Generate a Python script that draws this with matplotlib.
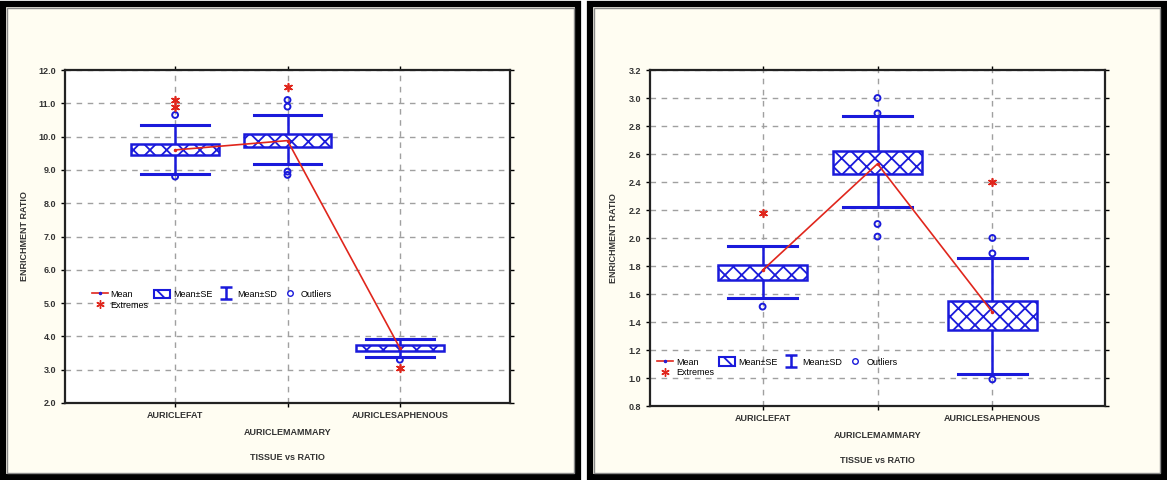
import numpy as np
import matplotlib
matplotlib.use("Agg")
import matplotlib.pyplot as plt
from matplotlib.patches import Rectangle, Patch
from matplotlib.lines import Line2D
from matplotlib.path import Path

plt.rcParams['font.family'] = ['Liberation Sans', 'DejaVu Sans']
plt.rcParams['hatch.linewidth'] = 1.3

cats = ["AURICLEFAT", "AURICLEMAMMARY", "AURICLESAPHENOUS"]
xlabel = "TISSUE vs RATIO"
ylabel = "ENRICHMENT RATIO"

# left panel
means1 = [9.6, 9.88, 3.65]
se_lo1 = [9.44, 9.70, 3.57]
se_hi1 = [9.78, 10.07, 3.73]
sd_lo1 = [8.88, 9.17, 3.37]
sd_hi1 = [10.35, 10.65, 3.93]
out_x1 = [0, 0, 1, 1, 1, 1, 2]
out_y1 = [10.65, 8.8, 11.1, 10.9, 8.95, 8.85, 3.3]
ext_x1 = [0, 0, 1, 2]
ext_y1 = [11.1, 10.9, 11.5, 3.05]
yticks1 = [2.0, 3.0, 4.0, 5.0, 6.0, 7.0, 8.0, 9.0, 10.0, 11.0, 12.0]

# right panel
means2 = [1.77, 2.53, 1.47]
se_lo2 = [1.70, 2.46, 1.34]
se_hi2 = [1.81, 2.62, 1.55]
sd_lo2 = [1.57, 2.22, 1.03]
sd_hi2 = [1.94, 2.87, 1.86]
out_x2 = [0, 1, 1, 1, 1, 2, 2, 2]
out_y2 = [1.51, 3.0, 2.89, 2.1, 2.01, 2.0, 1.89, 0.99]
ext_x2 = [0, 2]
ext_y2 = [2.18, 2.4]
yticks2 = [0.8, 1.0, 1.2, 1.4, 1.6, 1.8, 2.0, 2.2, 2.4, 2.6, 2.8, 3.0, 3.2]

BLUE = '#1a1adb'
RED = '#e0261c'
W, H = 1167, 480

# I-beam marker for the Mean±SD legend entry
ibeam = Path([(-1, 1), (1, 1), (0, 1), (0, -1), (-1, -1), (1, -1)],
             [Path.MOVETO, Path.LINETO, Path.MOVETO, Path.LINETO, Path.MOVETO, Path.LINETO])

fig = plt.figure(figsize=(11.67, 4.8), dpi=100)
fig.patch.set_facecolor('white')

# panel frames (drawn under the axes)
for x0, x1 in [(3, 578), (590, 1164)]:
    fig.patches.append(Rectangle((x0 / W, 3 / H), (x1 - x0) / W, 473 / H,
                                 transform=fig.transFigure, facecolor='#fffdf2',
                                 edgecolor='black', linewidth=4.5, zorder=-2))
    fig.patches.append(Rectangle(((x0 + 4) / W, 7 / H), (x1 - x0 - 8) / W, 465 / H,
                                 transform=fig.transFigure, facecolor='none',
                                 edgecolor='#8a8a8a', linewidth=1, zorder=-1))


def panel(rect, means, se_lo, se_hi, sd_lo, sd_hi, ox, oy, ex, ey, yticks, leg_pos):
    ax = fig.add_axes(rect)
    ax.set_facecolor('white')
    x = np.arange(len(cats))
    for i in x:
        ax.add_patch(Rectangle((i - 0.39, se_lo[i]), 0.78, se_hi[i] - se_lo[i],
                               facecolor='white', edgecolor=BLUE, hatch='xx',
                               linewidth=1.8, zorder=3))
        ax.plot([i, i], [sd_lo[i], sd_hi[i]], color=BLUE, lw=1.8, zorder=2)
        ax.plot([i - 0.3, i + 0.3], [sd_lo[i]] * 2, color=BLUE, lw=2.2, zorder=4)
        ax.plot([i - 0.3, i + 0.3], [sd_hi[i]] * 2, color=BLUE, lw=2.2, zorder=4)
    ax.plot(x, means, color=RED, lw=1.2, marker='.', ms=3, zorder=5)
    ax.scatter(ox, oy, s=18, facecolors='none', edgecolors=BLUE, linewidths=1.4, zorder=6)
    ax.scatter(ex, ey, s=30, marker=(6, 2, 0), color=RED, linewidths=1.2, zorder=6)

    ax.set_xlim(-0.98, 2.98)
    ax.set_ylim(yticks[0], yticks[-1])
    ax.set_yticks(yticks)
    ax.set_yticklabels([f"{v:.1f}" for v in yticks], fontsize=6.5, fontweight='bold', color='#333333')
    ax.set_xticks(x)
    ax.set_xticklabels([])
    for i, c in enumerate(cats):
        ax.annotate(c, (i, 0), xycoords=('data', 'axes fraction'),
                    xytext=(0, -9 if i != 1 else -21), textcoords='offset points',
                    ha='center', va='center', fontsize=6.5, fontweight='bold', color='#333333')
    ax.annotate(xlabel, (0.5, 0), xycoords='axes fraction', xytext=(0, -39),
                textcoords='offset points', ha='center', va='center',
                fontsize=6.5, fontweight='bold', color='#333333')
    ax.set_ylabel(ylabel, fontsize=6.5, fontweight='bold', color='#333333', labelpad=7)
    ax.tick_params(axis='both', length=3, width=1, direction='out')
    ax.tick_params(axis='both', which='major', top=True, right=True)
    ax.grid(True, color='#a0a0a0', linestyle=(0, (4, 4)), linewidth=1)
    ax.set_axisbelow(True)
    for s in ax.spines.values():
        s.set_linewidth(1.6)
        s.set_color('#222222')

    # legend
    h_mean = Line2D([], [], color=RED, lw=1.2, marker='.', ms=3, markeredgecolor=BLUE)
    h_ext = Line2D([], [], ls='none', marker=(6, 2, 0), color=RED, ms=6)
    h_se = Patch(facecolor='white', edgecolor=BLUE, hatch='x', linewidth=1.5)
    h_sd = Line2D([], [], ls='none', marker=ibeam, mec=BLUE, mew=1.8, ms=9)
    h_out = Line2D([], [], ls='none', marker='o', mfc='none', mec=BLUE, ms=4)
    ax.legend([h_mean, h_ext, h_se, h_sd, h_out],
              ["Mean", "Extremes", "Mean±SE", "Mean±SD", "Outliers"],
              ncol=4, loc='upper left', bbox_to_anchor=leg_pos, frameon=False,
              fontsize=6.5, handlelength=1.8, handleheight=1.1, handletextpad=0.3,
              columnspacing=0.6, labelspacing=0.15, borderpad=0, borderaxespad=0)
    return ax


panel([65 / W, 1 - 403 / H, 445 / W, 333 / H], means1, se_lo1, se_hi1, sd_lo1, sd_hi1,
      out_x1, out_y1, ext_x1, ext_y1, yticks1, (0.06, 0.34))
panel([650 / W, 1 - 406 / H, 455 / W, 336 / H], means2, se_lo2, se_hi2, sd_lo2, sd_hi2,
      out_x2, out_y2, ext_x2, ext_y2, yticks2, (0.015, 0.145))

fig.savefig('out.png', dpi=100, facecolor='white')
